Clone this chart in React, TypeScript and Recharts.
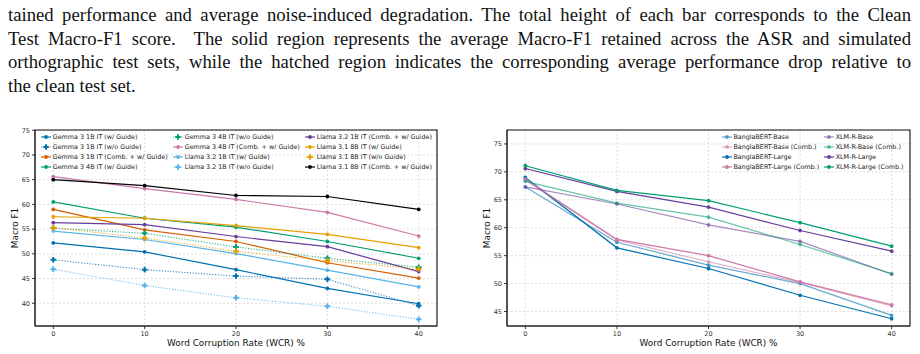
import React from 'react';
import { LineChart, Line, XAxis, YAxis, CartesianGrid, ReferenceArea } from 'recharts';

const wcr = [0, 10, 20, 30, 40];
const xTicks = [0, 10, 20, 30, 40];
const llmTicks = [40, 45, 50, 55, 60, 65, 70, 75];
const encTicks = [45, 50, 55, 60, 65, 70, 75];

// Macro F1 of the instruction-tuned LLMs at each corruption rate
const gemma1bGuide = [52.2, 50.4, 46.8, 43.0, 39.9];
const gemma1bNoGuide = [48.8, 46.8, 45.5, 44.85, 39.5];
const gemma1bComb = [59.0, 54.85, 52.5, 48.2, 45.1];
const gemma4bGuide = [60.5, 57.2, 55.4, 52.5, 49.1];
const gemma4bNoGuide = [55.2, 54.15, 51.4, 49.1, 47.3];
const gemma4bComb = [65.6, 63.2, 61.0, 58.4, 53.6];
const llama1bGuide = [54.6, 52.9, 50.05, 46.7, 43.3];
const llama1bNoGuide = [46.9, 43.6, 41.1, 39.4, 36.75];
const llama1bComb = [56.3, 55.9, 53.5, 51.45, 46.4];
const llama8bGuide = [57.5, 57.2, 55.7, 53.95, 51.25];
const llama8bNoGuide = [55.3, 53.2, 50.5, 48.6, 46.95];
const llama8bComb = [65.0, 63.8, 61.8, 61.6, 59.0];

// Macro F1 of the fine-tuned encoders
const banglaBase = [67.3, 57.4, 53.3, 50.0, 44.3];
const banglaBaseComb = [68.5, 57.8, 53.9, 50.2, 46.0];
const banglaLarge = [69.0, 56.4, 52.7, 47.9, 43.7];
const banglaLargeComb = [68.7, 57.9, 55.0, 50.3, 46.2];
const xlmrBase = [67.3, 64.25, 60.5, 57.55, 51.7];
const xlmrBaseComb = [68.3, 64.4, 61.9, 57.0, 51.75];
const xlmrLarge = [70.6, 66.5, 63.7, 59.5, 55.8];
const xlmrLargeComb = [71.1, 66.7, 64.85, 60.9, 56.7];

const BLUE = '#0072B2';
const VERMIL = '#D55E00';
const GREEN = '#009E73';
const PINK = '#CC79A7';
const SKY = '#56B4E9';
const PURPLE = '#6A3D9A';
const AMBER = '#E69F00';

type Series = { name: string; values: number[]; color: string; dotted?: boolean; faded?: boolean };

const llmSeries: Series[] = [
  { name: 'Gemma 3 1B IT (w/ Guide)', values: gemma1bGuide, color: BLUE },
  { name: 'Gemma 3 1B IT (w/o Guide)', values: gemma1bNoGuide, color: BLUE, dotted: true },
  { name: 'Gemma 3 1B IT (Comb. + w/ Guide)', values: gemma1bComb, color: VERMIL },
  { name: 'Gemma 3 4B IT (w/ Guide)', values: gemma4bGuide, color: GREEN },
  { name: 'Gemma 3 4B IT (w/o Guide)', values: gemma4bNoGuide, color: GREEN, dotted: true },
  { name: 'Gemma 3 4B IT (Comb. + w/ Guide)', values: gemma4bComb, color: PINK },
  { name: 'Llama 3.2 1B IT (w/ Guide)', values: llama1bGuide, color: SKY },
  { name: 'Llama 3.2 1B IT (w/o Guide)', values: llama1bNoGuide, color: SKY, dotted: true },
  { name: 'Llama 3.2 1B IT (Comb. + w/ Guide)', values: llama1bComb, color: PURPLE },
  { name: 'Llama 3.1 8B IT (w/ Guide)', values: llama8bGuide, color: AMBER },
  { name: 'Llama 3.1 8B IT (w/o Guide)', values: llama8bNoGuide, color: AMBER, dotted: true },
  { name: 'Llama 3.1 8B IT (Comb. + w/ Guide)', values: llama8bComb, color: '#000000' },
];

const encSeries: Series[] = [
  { name: 'BanglaBERT-Base', values: banglaBase, color: BLUE, faded: true },
  { name: 'BanglaBERT-Base (Comb.)', values: banglaBaseComb, color: PINK, faded: true },
  { name: 'BanglaBERT-Large', values: banglaLarge, color: BLUE },
  { name: 'BanglaBERT-Large (Comb.)', values: banglaLargeComb, color: PINK },
  { name: 'XLM-R-Base', values: xlmrBase, color: PURPLE, faded: true },
  { name: 'XLM-R-Base (Comb.)', values: xlmrBaseComb, color: GREEN, faded: true },
  { name: 'XLM-R-Large', values: xlmrLarge, color: PURPLE },
  { name: 'XLM-R-Large (Comb.)', values: xlmrLargeComb, color: GREEN },
];

const toRows = (series: Series[]) =>
  wcr.map((w, i) => {
    const row: Record<string, number> = { wcr: w };
    series.forEach((s, k) => (row[`s${k}`] = s.values[i]));
    return row;
  });

const FONT = '"DejaVu Sans", sans-serif';

// filled plus marker, like matplotlib's 'P'
const plusPath = (cx: number, cy: number, a = 2.8, b = 1) =>
  `M${cx - b},${cy - a}h${2 * b}v${a - b}h${a - b}v${2 * b}h${-(a - b)}v${a - b}h${-2 * b}v${-(a - b)}h${-(a - b)}v${-2 * b}h${a - b}z`;

const PlusDot = (props: any) => {
  const { cx, cy, stroke } = props;
  if (cx == null || cy == null) return <g />;
  return <path d={plusPath(cx, cy)} fill={stroke} />;
};

const yTitle = (x: number) => (props: any) => {
  const vb = props.viewBox || {};
  const cy = (vb.y ?? 0) + (vb.height ?? 0) / 2;
  return (
    <text x={x} y={cy} transform={`rotate(-90 ${x} ${cy})`} textAnchor="middle" dominantBaseline="central" fontSize={8.9} fill="#111" fontFamily={FONT}>
      Macro F1
    </text>
  );
};

const xTitle = (props: any) => {
  const vb = props.viewBox || {};
  const cx = (vb.x ?? 0) + (vb.width ?? 0) / 2;
  return (
    <text x={cx} y={(vb.y ?? 0) + 17} textAnchor="middle" dominantBaseline="central" fontSize={8.9} fill="#111" fontFamily={FONT}>
      Word Corruption Rate (WCR) %
    </text>
  );
};

const Swatch = ({ s }: { s: Series }) => (
  <svg width={10} height={8} style={{ flex: 'none', marginRight: 1.7 }}>
    <line x1={0} y1={4} x2={10} y2={4} stroke={s.color} strokeWidth={1.2} strokeOpacity={s.faded ? 0.6 : s.dotted ? 0.75 : 1} strokeDasharray={s.dotted ? '1.2 1.6' : undefined} />
    {s.dotted ? (
      <path d={plusPath(5, 4)} fill={s.color} />
    ) : (
      <circle cx={5} cy={4} r={1.9} fill={s.color} fillOpacity={s.faded ? 0.6 : 1} />
    )}
  </svg>
);

const LegendGrid = ({ series, left, colWidth }: { series: Series[]; left: number; colWidth: number }) => {
  const cols: Series[][] = [];
  for (let i = 0; i < series.length; i += 4) cols.push(series.slice(i, i + 4));
  return (
    <div style={{ position: 'absolute', left, top: 132.3, display: 'flex', fontFamily: FONT, fontSize: 6.4, color: '#222' }}>
      {cols.map((col, c) => (
        <div key={c} style={{ width: colWidth }}>
          {col.map((s) => (
            <div key={s.name} style={{ display: 'flex', alignItems: 'center', height: 10, whiteSpace: 'nowrap' }}>
              <Swatch s={s} />
              <span>{s.name}</span>
            </div>
          ))}
        </div>
      ))}
    </div>
  );
};

type PanelProps = {
  series: Series[];
  domain: [number, number];
  ticks: number[];
  left: number;
  yAxisWidth: number;
  marginRight: number;
  titleX: number;
};

const Panel = ({ series, domain, ticks, left, yAxisWidth, marginRight, titleX }: PanelProps) => (
  <div style={{ position: 'absolute', left, top: 120 }}>
    <LineChart width={450} height={234} data={toRows(series)} margin={{ top: 10, right: marginRight, bottom: 0, left: 0 }} style={{ fontFamily: FONT }}>
      <CartesianGrid stroke="#d0d0d0" strokeDasharray="2 2" strokeWidth={0.7} />
      <XAxis
        dataKey="wcr"
        type="number"
        domain={[-2, 42]}
        ticks={xTicks}
        allowDataOverflow
        height={28}
        tickSize={3}
        tickMargin={2}
        tick={{ fontSize: 6.5, fill: '#333' }}
        stroke="#333"
        label={{ content: xTitle }}
      />
      <YAxis
        type="number"
        domain={domain}
        ticks={ticks}
        allowDataOverflow
        width={yAxisWidth}
        tickSize={3}
        tickMargin={2}
        tick={{ fontSize: 6.5, fill: '#333' }}
        stroke="#333"
        label={{ content: yTitle(titleX) }}
      />
      <ReferenceArea x1={-2} x2={42} y1={domain[0]} y2={domain[1]} fill="none" stroke="#111" strokeWidth={1.1} ifOverflow="visible" />
      {series.map((s, k) => (
        <Line
          key={s.name}
          dataKey={`s${k}`}
          name={s.name}
          type="linear"
          stroke={s.color}
          strokeWidth={1.2}
          strokeOpacity={s.faded ? 0.6 : s.dotted ? 0.75 : 1}
          strokeDasharray={s.dotted ? '1.2 1.6' : undefined}
          dot={s.dotted ? <PlusDot /> : { r: 1.9, fill: s.color, fillOpacity: s.faded ? 0.6 : 1, stroke: 'none' }}
          activeDot={false}
          isAnimationActive={false}
        />
      ))}
    </LineChart>
  </div>
);

const captionLines = [
  'tained performance and average noise-induced degradation. The total height of each bar corresponds to the Clean',
  'Test Macro-F1 score.  The solid region represents the average Macro-F1 retained across the ASR and simulated',
  'orthographic test sets, while the hatched region indicates the corresponding average performance drop relative to',
  'the clean test set.',
];

export default function App() {
  return (
    <div style={{ position: 'fixed', left: 0, top: 0, width: 920, height: 354, background: '#fff', overflow: 'hidden' }}>
      <div style={{ position: 'absolute', left: 8, top: 3, width: 903, fontFamily: '"Liberation Serif", "Times New Roman", serif', fontSize: 18.7, lineHeight: '23.7px', color: '#111' }}>
        {captionLines.map((t, i) => (
          <div key={i} style={{ textAlign: 'justify', textAlignLast: i < captionLines.length - 1 ? 'justify' : 'left', whiteSpace: 'pre-wrap' }}>
            {t}
          </div>
        ))}
      </div>
      <Panel series={llmSeries} domain={[35.4, 75.05]} ticks={llmTicks} left={0} yAxisWidth={35} marginRight={13} titleX={15} />
      <Panel series={encSeries} domain={[42.4, 77.5]} ticks={encTicks} left={470} yAxisWidth={37} marginRight={10} titleX={17} />
      <LegendGrid series={llmSeries} left={41} colWidth={132} />
      <LegendGrid series={encSeries} left={721.7} colWidth={102.3} />
    </div>
  );
}
